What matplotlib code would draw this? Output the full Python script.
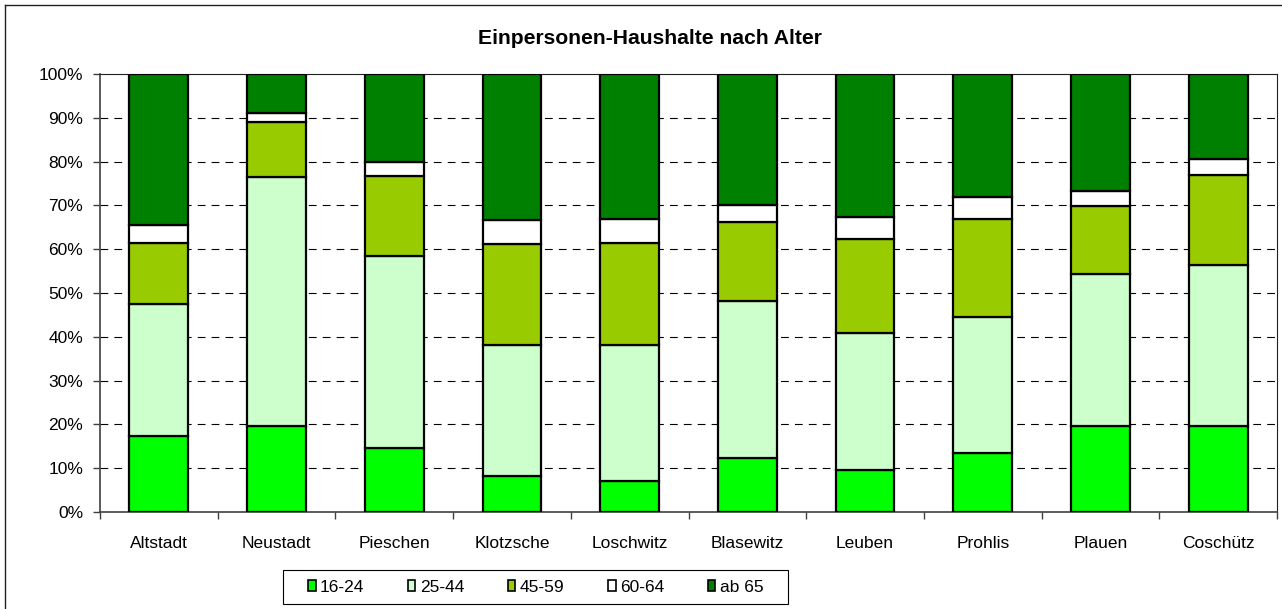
import numpy as np
import matplotlib
matplotlib.use("Agg")
import matplotlib.pyplot as plt
from matplotlib.lines import Line2D
from matplotlib.patches import Rectangle

plt.rcParams['font.family'] = ['Liberation Sans', 'DejaVu Sans']

# Anteile der Altersgruppen an den Einpersonen-Haushalten je Ortsamtsbereich (in %)
bereiche = ["Altstadt", "Neustadt", "Pieschen", "Klotzsche", "Loschwitz",
            "Blasewitz", "Leuben", "Prohlis", "Plauen", "Coschütz"]
gruppen = ["16-24", "25-44", "45-59", "60-64", "ab 65"]

a16_24 = [17.4, 19.6, 14.6, 8.2, 7.1, 12.3, 9.7, 13.5, 19.7, 19.6]
a25_44 = [30.1, 56.9, 43.8, 29.9, 31.0, 35.8, 31.1, 31.1, 34.6, 36.7]
a45_59 = [14.0, 12.5, 18.3, 23.0, 23.4, 18.1, 21.5, 22.3, 15.6, 20.6]
a60_64 = [4.0, 2.2, 3.2, 5.5, 5.5, 3.9, 5.1, 5.1, 3.5, 3.7]
ab65 = [34.5, 8.8, 20.1, 33.4, 33.0, 29.9, 32.6, 28.0, 26.6, 19.4]

farben = ["#00ff00", "#ccffcc", "#99cc00", "#ffffff", "#008000"]

W, H = 1282, 609
fig = plt.figure(figsize=(W / 100, H / 100), dpi=100)
ax = fig.add_axes([100 / W, 1 - 512 / H, 1177 / W, 438 / H])

x = np.arange(len(bereiche))
serien = [a16_24, a25_44, a45_59, a60_64, ab65]
unten = np.zeros(len(bereiche))
for werte, farbe, name in zip(serien, farben, gruppen):
    werte = np.array(werte)
    ax.bar(x, werte, 0.5, bottom=unten, color=farbe, edgecolor="black",
           linewidth=1.6, label=name, zorder=3)
    unten += werte

ax.set_xlim(-0.5, len(bereiche) - 0.5)
ax.set_ylim(0, 100)

# y-Achse mit Prozentangaben und gestricheltem Gitter
ax.set_yticks(np.arange(0, 101, 10))
ax.set_yticklabels([f"{v}%" for v in range(0, 101, 10)], fontsize=12.5)
ax.tick_params(axis="y", length=5, width=1, color="#404040", pad=7)
for v in range(10, 100, 10):
    ax.axhline(v, color="black", linewidth=0.8, dashes=(7, 5.5), zorder=1)

# x-Achse: Striche zwischen den Kategorien, Beschriftung mittig
ax.set_xticks(np.arange(len(bereiche) + 1) - 0.5)
ax.set_xticklabels([])
ax.tick_params(axis="x", which="major", length=5, width=1, color="#404040")
ax.set_xticks(x, minor=True)
ax.set_xticklabels(bereiche, minor=True, fontsize=12.5)
ax.tick_params(axis="x", which="minor", length=0, pad=17)

for s in ["left", "bottom"]:
    ax.spines[s].set_color("#404040")
    ax.spines[s].set_linewidth(1.2)
for s in ["top", "right"]:
    ax.spines[s].set_color("#202020")
    ax.spines[s].set_linewidth(0.8)

fig.text(649.5 / W, 1 - 38 / H, "Einpersonen-Haushalte nach Alter",
         ha="center", va="center", fontsize=15.2, fontweight="bold")

leg = fig.legend(loc="center", bbox_to_anchor=(535.5 / W, 1 - 587 / H), ncol=5,
                 fontsize=12.5, frameon=False, handlelength=0.45,
                 handleheight=0.65, handletextpad=0.25, columnspacing=2.5,
                 borderpad=0.3, borderaxespad=0)
for h in leg.legend_handles:
    h.set_linewidth(1.2)

# Legendenrahmen, breiter als die Einträge
fig.add_artist(Rectangle((283 / W, 1 - 604 / H), 505 / W, 34 / H,
                         transform=fig.transFigure, fill=False,
                         edgecolor="black", linewidth=0.8))

# Rahmen des Diagrammbereichs
fig.add_artist(Line2D([5 / W, 5 / W], [0, 1 - 5 / H], color="#202020", linewidth=1))
fig.add_artist(Line2D([5 / W, 1], [1 - 5 / H, 1 - 5 / H], color="#202020", linewidth=1))

fig.savefig("out.png", dpi=100)
